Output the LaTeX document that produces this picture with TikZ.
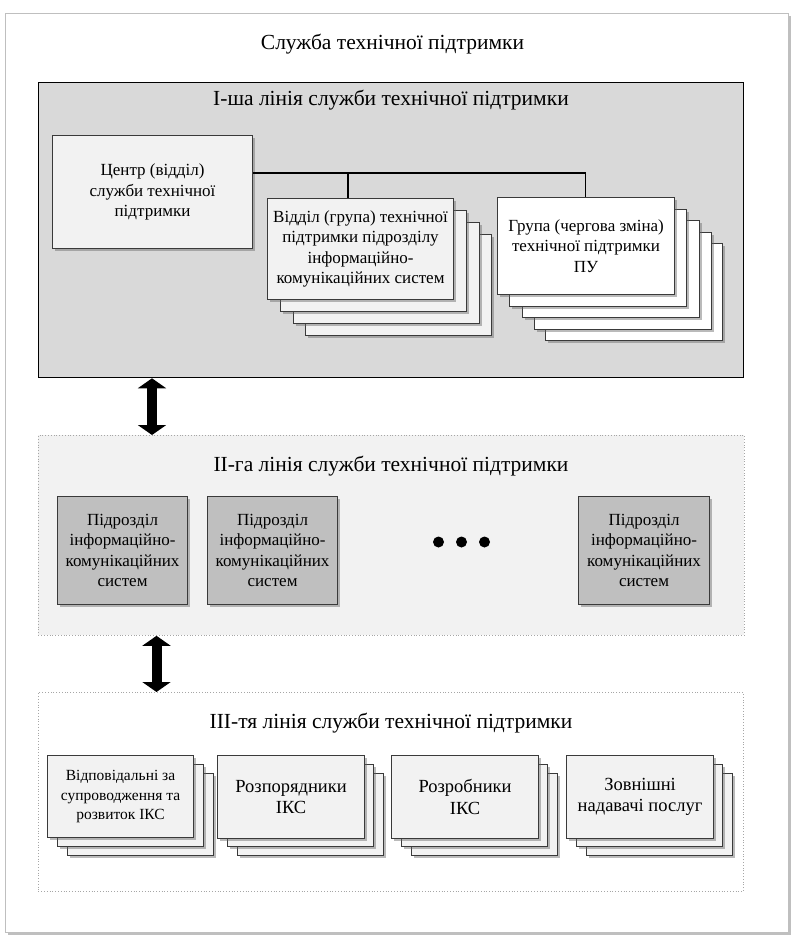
\documentclass[tikz,border=0pt]{standalone}
\usepackage{fontspec}
\setmainfont{Liberation Serif}
\usetikzlibrary{shadows,arrows.meta}
\definecolor{lgray}{HTML}{D9D9D9}
\definecolor{vlgray}{HTML}{F2F2F2}
\definecolor{mgray}{HTML}{BFBFBF}
\definecolor{edge}{HTML}{3A3A3A}
\tikzset{
  shad/.style={drop shadow={shadow xshift=2.5pt,shadow yshift=-2.5pt,opacity=0.45,fill=black!60}},
  box/.style={draw=edge,line width=1.1pt,anchor=north west,align=center,inner sep=2pt,shad},
  lbox/.style={box,fill=vlgray},
  wbox/.style={box,fill=white},
  gbox/.style={box,fill=mgray},
  txt/.style={font=\fontsize{17}{20.5}\selectfont},
  ttl/.style={font=\fontsize{21.5}{25}\selectfont},
  section/.style={anchor=north west,inner sep=0pt},
  dbl/.style={line width=10pt,{Triangle[width=28pt,length=10pt]}-{Triangle[width=28pt,length=10pt]}},
  dotn/.style={circle,fill=black,inner sep=0pt,minimum size=11pt},
}
\begin{document}
\begin{tikzpicture}[x=1pt,y=-1pt]
\useasboundingbox (0,0) rectangle (798,941);
% page
\node[section,draw=black!25,line width=0.8pt,fill=white,minimum width=783pt,minimum height=919pt,
  drop shadow={shadow xshift=3pt,shadow yshift=-3pt,opacity=0.5,fill=black!50}] (page) at (5,13) {};
\node[ttl] (title) at (392.5,44) {Служба технічної підтримки};

% ---- line I
\node[section,draw=black,line width=1.3pt,fill=lgray,minimum width=705pt,minimum height=295pt] (L1) at (38,82) {};
\node[ttl] (L1t) at (391,100) {І-ша лінія служби технічної підтримки};
\node[lbox,txt,minimum width=200pt,minimum height=113pt] (ctr) at (52,135)
  {Центр (відділ)\\служби технічної\\підтримки};

% Відділ stack (4)
\foreach \i/\xx/\yy in {4/305/234,3/293/222,2/280/210}{
  \node[lbox,minimum width=186pt,minimum height=101pt] (vid\i) at (\xx,\yy) {};
}
\node[lbox,txt,minimum width=186pt,minimum height=101pt] (vid1) at (267,198)
  {Відділ (група) технічної\\підтримки підрозділу\\інформаційно-\\комунікаційних систем};

% Група stack (5)
\foreach \i/\xx/\yy in {5/545/243,4/534/232,3/522/220,2/509/209}{
  \node[wbox,minimum width=177pt,minimum height=97pt] (grp\i) at (\xx,\yy) {};
}
\node[wbox,txt,minimum width=177pt,minimum height=97pt] (grp1) at (497,197)
  {Група (чергова зміна)\\технічної підтримки\\ПУ};

% connectors
\coordinate (j1) at (348,173);
\coordinate (j2) at (585.5,173);
\draw[line width=1.3pt] (ctr.east |- j1) -- (j2) -- (j2 |- grp1.north);
\draw[line width=1.3pt] (j1) -- (j1 |- vid1.north);

% ---- line II
\node[section,draw=black!35,dotted,line width=0.8pt,fill=vlgray,minimum width=706pt,minimum height=200pt] (L2) at (38,435) {};
\node[ttl] (L2t) at (391,466) {ІІ-га лінія служби технічної підтримки};
\node[gbox,txt,minimum width=130pt,minimum height=108pt] (p1) at (57,496)
  {Підрозділ\\інформаційно-\\комунікаційних\\систем};
\node[gbox,txt,minimum width=130pt,minimum height=108pt] (p2) at (207,496)
  {Підрозділ\\інформаційно-\\комунікаційних\\систем};
\node[gbox,txt,minimum width=131pt,minimum height=108pt] (p3) at (578,496)
  {Підрозділ\\інформаційно-\\комунікаційних\\систем};
\node[dotn] (d1) at (438.5,542) {};
\node[dotn] (d2) at (461.5,542) {};
\node[dotn] (d3) at (484.5,542) {};

% ---- line III
\node[section,draw=black!35,dotted,line width=0.8pt,fill=white,minimum width=705pt,minimum height=199pt] (L3) at (38,692) {};
\node[ttl] (L3t) at (391,723) {ІІІ-тя лінія служби технічної підтримки};

\foreach \n/\xx in {a/47,b/217,c/391,d/566}{
  \node[lbox,minimum width=146pt,minimum height=82pt] (\n3) at (\xx+20,773) {};
  \node[lbox,minimum width=146pt,minimum height=82pt] (\n2) at (\xx+10,764) {};
}
\node[lbox,font=\fontsize{15.5}{19.5}\selectfont,minimum width=146pt,minimum height=82pt] (a1) at (47,755)
  {Відповідальні за\\супроводження та\\розвиток ІКС};
\node[lbox,font=\fontsize{18.5}{21.5}\selectfont,minimum width=147pt,minimum height=83pt] (b1) at (217,755)
  {Розпорядники\\ІКС};
\node[lbox,font=\fontsize{18.5}{21.5}\selectfont,minimum width=147pt,minimum height=83pt] (c1) at (391,755)
  {Розробники\\ІКС};
\node[lbox,font=\fontsize{18.5}{21.5}\selectfont,minimum width=147pt,minimum height=83pt] (d1b) at (566,755)
  {Зовнішні\\надавачі послуг};

% arrows
\coordinate (ax1) at (152,0);
\coordinate (ax2) at (156.5,0);
\draw[dbl] (ax1 |- L1.south) -- (ax1 |- L2.north);
\draw[dbl] (ax2 |- L2.south) -- (ax2 |- L3.north);
\end{tikzpicture}
\end{document}
